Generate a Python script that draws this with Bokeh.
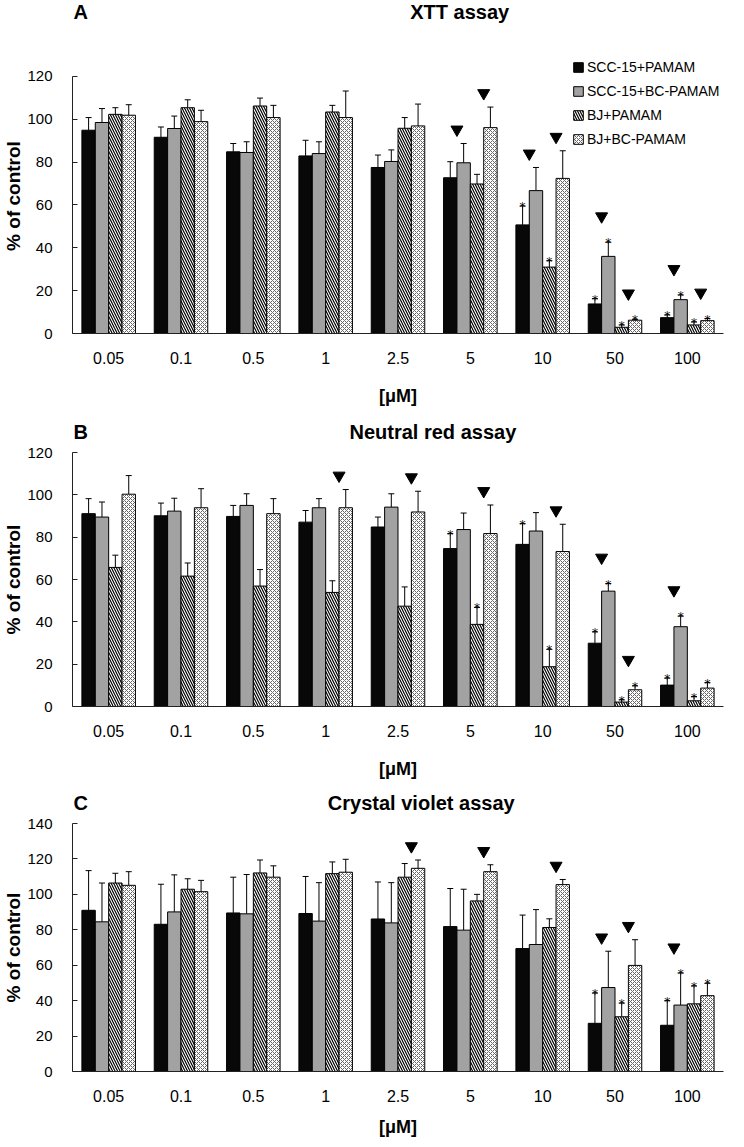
from bokeh.plotting import figure
from bokeh.layouts import column
from bokeh.models import ColumnDataSource, FactorRange, FixedTicker, Legend, LegendItem, Label
from bokeh.transform import dodge
from bokeh.core.properties import value
from bokeh.embed import file_html
from bokeh.resources import INLINE

concentrations = ["0.05", "0.1", "0.5", "1", "2.5", "5", "10", "50", "100"]
series_labels = ["SCC-15+PAMAM", "SCC-15+BC-PAMAM", "BJ+PAMAM", "BJ+BC-PAMAM"]

# ---- A: XTT assay (% of control, mean and SD) ----
xtt_scc_pamam = [94.9, 91.6, 84.8, 82.9, 77.5, 72.7, 50.7, 13.8, 7.4]
xtt_scc_pamam_sd = [5.9, 4.8, 3.9, 7.3, 5.8, 7.5, 8.8, 2.5, 1.3]
xtt_scc_bc = [98.5, 95.7, 84.5, 84.0, 80.3, 79.7, 66.7, 36.0, 15.8]
xtt_scc_bc_sd = [6.5, 5.8, 5.0, 5.5, 5.4, 9.0, 10.8, 6.6, 2.2]
xtt_bj_pamam = [102.3, 105.4, 106.2, 103.4, 95.8, 69.8, 31.0, 2.9, 4.0]
xtt_bj_pamam_sd = [3.1, 3.7, 3.7, 3.1, 5.0, 4.5, 3.0, 1.1, 1.4]
xtt_bj_bc = [101.9, 98.9, 100.8, 100.8, 96.9, 96.1, 72.4, 6.2, 6.0]
xtt_bj_bc_sd = [4.9, 5.3, 5.7, 12.4, 10.2, 9.6, 12.9, 0.4, 1.0]
xtt_star_scc_pamam = [0, 0, 0, 0, 0, 0, 1, 1, 1]
xtt_star_scc_bc = [0, 0, 0, 0, 0, 0, 0, 1, 1]
xtt_star_bj_pamam = [0, 0, 0, 0, 0, 0, 1, 1, 1]
xtt_star_bj_bc = [0, 0, 0, 0, 0, 0, 0, 1, 1]
xtt_arrow_scc = [0, 0, 0, 0, 0, 1, 1, 1, 1]
xtt_arrow_bj = [0, 0, 0, 0, 0, 1, 1, 1, 1]

# ---- B: Neutral red assay ----
nr_scc_pamam = [91.1, 90.1, 89.8, 87.1, 84.8, 74.6, 76.6, 29.9, 10.1]
nr_scc_pamam_sd = [7.1, 6.0, 5.2, 5.5, 4.7, 7.1, 9.8, 5.4, 3.3]
nr_scc_bc = [89.5, 92.3, 95.0, 93.9, 94.2, 83.6, 82.9, 54.5, 37.7]
nr_scc_bc_sd = [7.1, 6.1, 5.5, 4.3, 6.3, 7.8, 8.7, 3.6, 5.0]
nr_bj_pamam = [65.7, 61.6, 56.9, 53.9, 47.4, 38.8, 18.8, 2.1, 2.7]
nr_bj_pamam_sd = [5.8, 6.2, 7.8, 5.5, 9.1, 8.0, 8.2, 1.1, 2.0]
nr_bj_bc = [100.3, 93.9, 91.1, 93.9, 91.9, 81.7, 73.2, 7.9, 8.7]
nr_bj_bc_sd = [8.8, 9.0, 7.1, 8.6, 9.8, 13.5, 12.9, 1.9, 2.6]
nr_star_scc_pamam = [0, 0, 0, 0, 0, 1, 1, 1, 1]
nr_star_scc_bc = [0, 0, 0, 0, 0, 0, 0, 1, 1]
nr_star_bj_pamam = [0, 0, 0, 0, 0, 1, 1, 1, 1]
nr_star_bj_bc = [0, 0, 0, 0, 0, 0, 0, 1, 1]
nr_arrow_scc = [0, 0, 0, 0, 0, 0, 0, 1, 1]
nr_arrow_bj = [0, 0, 0, 1, 1, 1, 1, 1, 0]

# ---- C: Crystal violet assay ----
cv_scc_pamam = [91.0, 83.1, 89.5, 89.2, 86.1, 81.8, 69.4, 27.2, 26.1]
cv_scc_pamam_sd = [22.4, 22.6, 20.2, 20.9, 20.9, 21.5, 18.9, 17.1, 13.9]
cv_scc_bc = [84.5, 90.1, 89.0, 84.9, 83.9, 79.8, 71.7, 47.4, 37.5]
cv_scc_bc_sd = [21.9, 20.9, 22.2, 21.7, 22.7, 23.1, 19.7, 20.5, 18.1]
cv_bj_pamam = [106.4, 102.9, 112.1, 111.7, 109.7, 96.3, 81.3, 30.9, 38.2]
cv_bj_pamam_sd = [5.5, 5.9, 7.3, 6.6, 7.7, 3.7, 4.9, 7.7, 10.1]
cv_bj_bc = [105.1, 101.5, 109.7, 112.5, 114.7, 112.8, 105.5, 59.9, 42.8]
cv_bj_bc_sd = [7.7, 6.4, 6.4, 7.3, 4.7, 3.9, 2.9, 14.5, 7.0]
cv_star_scc_pamam = [0, 0, 0, 0, 0, 0, 0, 1, 1]
cv_star_scc_bc = [0, 0, 0, 0, 0, 0, 0, 0, 1]
cv_star_bj_pamam = [0, 0, 0, 0, 0, 0, 0, 1, 1]
cv_star_bj_bc = [0, 0, 0, 0, 0, 0, 0, 0, 1]
cv_arrow_scc = [0, 0, 0, 0, 0, 0, 0, 1, 1]
cv_arrow_bj = [0, 0, 0, 0, 1, 1, 1, 1, 0]

FONT = "Liberation Sans"
FIG_W = 728
W = 0.185
OFFSETS = [-1.5 * W, -0.5 * W, 0.5 * W, 1.5 * W]
STYLES = [
    dict(fill_color="#080808"),
    dict(fill_color="#a2a2a2"),
    dict(fill_color="white", hatch_pattern="left_diagonal_line", hatch_color="black",
         hatch_weight=1.2, hatch_scale=5),
    dict(fill_color="white", hatch_pattern="diagonal_cross", hatch_color="#666666",
         hatch_weight=1, hatch_scale=4),
]


def make_header(letter, title, height, text_y, title_cx):
    h = figure(width=FIG_W, height=height, x_range=(0, FIG_W), y_range=(0, height),
               output_backend="svg", toolbar_location=None, x_axis_location=None,
               y_axis_location=None, min_border=0, min_border_left=0, min_border_right=0,
               min_border_top=0, min_border_bottom=0)
    h.xgrid.visible = False
    h.ygrid.visible = False
    h.outline_line_color = None
    h.add_layout(Label(x=1, y=text_y, text=letter, text_font=FONT, text_font_style="bold",
                       text_font_size="20px", text_baseline="middle", text_align="left",
                       text_color="black"))
    h.add_layout(Label(x=title_cx, y=text_y, text=title, text_font=FONT,
                       text_font_style="bold", text_font_size="20px",
                       text_baseline="middle", text_align="center", text_color="black"))
    return h


def make_panel(means, sds, stars, arrow_scc, arrow_bj, axis_max, range_end,
               fig_h, top, frame_h, label_standoff, show_legend):
    bottom = fig_h - top - frame_h
    p = figure(width=FIG_W, height=fig_h, x_range=FactorRange(*concentrations),
               y_range=(0, range_end), output_backend="svg", toolbar_location=None,
               min_border_left=66, min_border_right=5, min_border_top=top,
               min_border_bottom=bottom)
    p.xgrid.visible = False
    p.ygrid.visible = False
    p.outline_line_color = None
    ppu = frame_h / range_end

    renderers = []
    tops_all = []
    for k in range(4):
        tops = [m + s for m, s in zip(means[k], sds[k])]
        tops_all.append(tops)
        src = ColumnDataSource(dict(conc=concentrations, mean=means[k], top=tops))
        xd = dodge("conc", OFFSETS[k], range=p.x_range)
        p.segment(x0=xd, y0="mean", x1=xd, y1="top", source=src,
                  line_color="black", line_width=1)
        p.scatter(x=xd, y="top", marker="dash", size=6, line_color="black",
                  line_width=1, source=src)
        r = p.vbar(x=xd, top="mean", width=W, source=src, line_color="black",
                   line_width=1, **STYLES[k])
        renderers.append(r)
        idx = [i for i in range(9) if stars[k][i]]
        ssrc = ColumnDataSource(dict(conc=[concentrations[i] for i in idx],
                                     top=[tops[i] for i in idx]))
        p.text(x=xd, y="top", text=value("*"), source=ssrc, text_align="center",
               text_baseline="alphabetic", text_font=value("DejaVu Sans"),
               text_font_size="12px", text_color="black", y_offset=1)

    def stack(k, i):
        return tops_all[k][i] + (12.0 / ppu if stars[k][i] else 0.0)

    for (a, b), flags, off in [((0, 1), arrow_scc, -W), ((2, 3), arrow_bj, W)]:
        idx = [i for i in range(9) if flags[i]]
        ys = [max(stack(a, i), stack(b, i)) + 14.0 / ppu for i in idx]
        asrc = ColumnDataSource(dict(conc=[concentrations[i] for i in idx], y=ys))
        p.scatter(x=dodge("conc", off, range=p.x_range), y="y", source=asrc,
                  marker="inverted_triangle", size=12, fill_color="black",
                  line_color="black")

    xa = p.xaxis[0]
    xa.axis_label = "[μM]"
    xa.axis_label_text_font = FONT
    xa.axis_label_text_font_style = "bold"
    xa.axis_label_text_font_size = "18px"
    xa.axis_label_text_color = "black"
    xa.axis_label_standoff = label_standoff
    xa.major_label_text_font = FONT
    xa.major_label_text_font_size = "16px"
    xa.major_label_text_color = "black"
    xa.major_label_standoff = 12
    xa.major_tick_line_color = None
    xa.minor_tick_line_color = None
    xa.axis_line_color = "#222222"

    ya = p.yaxis[0]
    ya.ticker = FixedTicker(ticks=list(range(0, axis_max + 1, 20)))
    ya.bounds = (0, axis_max)
    ya.axis_label = "% of control"
    ya.axis_label_text_font = FONT
    ya.axis_label_text_font_style = "bold"
    ya.axis_label_text_font_size = "19px"
    ya.axis_label_text_color = "black"
    ya.axis_label_standoff = 0
    ya.major_label_text_font = FONT
    ya.major_label_text_font_size = "15px"
    ya.major_label_text_color = "black"
    ya.major_label_standoff = 20
    ya.major_tick_in = 5
    ya.major_tick_out = 0
    ya.major_tick_line_color = "#222222"
    ya.minor_tick_line_color = None
    ya.axis_line_color = "#222222"

    if show_legend:
        items = [LegendItem(label=series_labels[k], renderers=[renderers[k]]) for k in range(4)]
        leg = Legend(items=items, location=(500, 184), padding=0, margin=0, spacing=4,
                     label_height=20, glyph_height=12, glyph_width=12, label_standoff=3,
                     label_text_font=FONT, label_text_font_size="14px",
                     label_text_color="black", border_line_color=None,
                     background_fill_alpha=0)
        p.add_layout(leg)
    return p


# page rows: header A 0-48, panel A 48-408, header B 408-444, panel B 444-781,
# header C 781-815, panel C 815-1139
hA = make_header("A", "XTT assay", 48, 37, 433)
pA = make_panel([xtt_scc_pamam, xtt_scc_bc, xtt_bj_pamam, xtt_bj_bc],
                [xtt_scc_pamam_sd, xtt_scc_bc_sd, xtt_bj_pamam_sd, xtt_bj_bc_sd],
                [xtt_star_scc_pamam, xtt_star_scc_bc, xtt_star_bj_pamam, xtt_star_bj_bc],
                xtt_arrow_scc, xtt_arrow_bj, 120, 120 * 276 / 258, 360, 10, 276, 19, True)
hB = make_header("B", "Neutral red assay", 36, 13, 403)
pB = make_panel([nr_scc_pamam, nr_scc_bc, nr_bj_pamam, nr_bj_bc],
                [nr_scc_pamam_sd, nr_scc_bc_sd, nr_bj_pamam_sd, nr_bj_bc_sd],
                [nr_star_scc_pamam, nr_star_scc_bc, nr_star_bj_pamam, nr_star_bj_bc],
                nr_arrow_scc, nr_arrow_bj, 120, 120, 337, 8, 255, 19, False)
hC = make_header("C", "Crystal violet assay", 34, 13, 390)
pC = make_panel([cv_scc_pamam, cv_scc_bc, cv_bj_pamam, cv_bj_bc],
                [cv_scc_pamam_sd, cv_scc_bc_sd, cv_bj_pamam_sd, cv_bj_bc_sd],
                [cv_star_scc_pamam, cv_star_scc_bc, cv_star_bj_pamam, cv_star_bj_bc],
                cv_arrow_scc, cv_arrow_bj, 140, 140, 324, 8, 252, 12, False)

layout = column(hA, pA, hB, pB, hC, pC, spacing=0)
open("out.html", "w").write(file_html(layout, INLINE))
